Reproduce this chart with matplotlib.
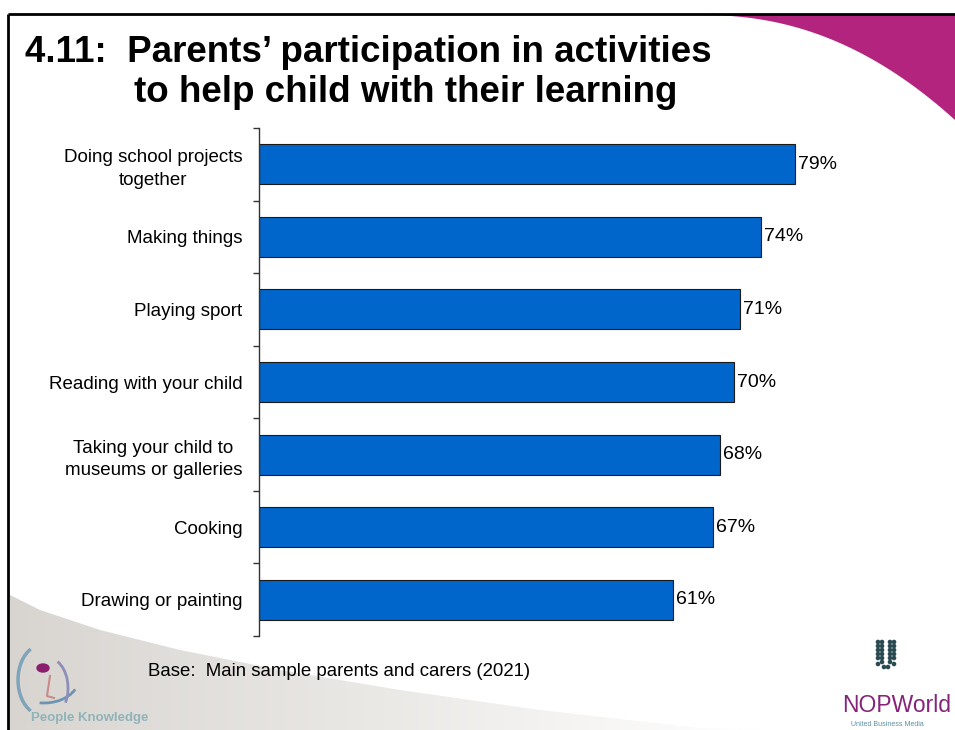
import numpy as np
import matplotlib.pyplot as plt
from matplotlib.patches import Polygon, Ellipse, Arc
from matplotlib.colors import LinearSegmentedColormap

plt.rcParams['font.family'] = ['Liberation Sans', 'DejaVu Sans']

activities = ['Doing school projects\ntogether', 'Making things', 'Playing sport',
              'Reading with your child', 'Taking your child to\nmuseums or galleries',
              'Cooking', 'Drawing or painting']
shares = [79, 74, 71, 70, 68, 67, 61]

W, H = 955, 730
fig = plt.figure(figsize=(W / 100, H / 100), dpi=100)

# slide background: frame, swooshes, logos (pixel coordinates)
bg = fig.add_axes([0, 0, 1, 1], zorder=0)
bg.set_xlim(0, W)
bg.set_ylim(H, 0)
bg.axis('off')

# grey swoosh bottom left, fading to the right
gx = np.array([8, 40, 100, 180, 280, 400, 540, 700, 760])
gy = np.array([594, 610, 630, 650, 670, 690, 710, 728, 730])
grey = Polygon(list(zip(gx, gy)) + [(760, H), (8, H)], closed=True,
               facecolor='none', edgecolor='none')
bg.add_patch(grey)
grad = np.linspace(0, 1, 256)[None, :]
img = bg.imshow(grad, extent=[8, 760, H, 590], aspect='auto', zorder=0.5,
                cmap=LinearSegmentedColormap.from_list('g', ['#d8d5d1', '#ebe9e6', '#ffffff']))
img.set_clip_path(grey)

# magenta swoosh top right
t = np.linspace(0, 1, 40)
mx = 700 + 255 * t
my = 15 + 105 * t ** 2.2
mag = Polygon(list(zip(mx, my)) + [(W, 14), (700, 14)], closed=True,
              facecolor='#b3247f', edgecolor='none', zorder=1)
bg.add_patch(mag)

# frame
bg.plot([8, W], [14, 14], color='black', lw=2, zorder=2, solid_capstyle='butt')
bg.plot([8, 8], [14, H], color='black', lw=2, zorder=2, solid_capstyle='butt')

# People Knowledge logo
bg.add_patch(Arc((42, 680), 48, 70, theta1=110, theta2=250, color='#7fa3b8', lw=2.5))
bg.add_patch(Arc((44, 678), 70, 50, theta1=20, theta2=100, color='#6f93b3', lw=2))
bg.add_patch(Arc((48, 688), 40, 60, theta1=-70, theta2=40, color='#8e8fb8', lw=2))
bg.add_patch(Ellipse((43, 668), 12, 8, color='#8a1f6e'))
bg.plot([50, 47, 54], [676, 696, 698], color='#c98a8a', lw=1.5)
bg.text(31, 718, 'People Knowledge', color='#8fb3b8', fontsize=9.5,
        fontweight='bold', va='center', ha='left')

# NOP World logo
for dx in [-8, -4, 4, 8]:
    for j in range(6):
        yy = 642 + j * 4 + (2 if abs(dx) == 8 and j == 5 else 0)
        bg.add_patch(Ellipse((886 + dx, yy), 3.2, 3.2, color='#2a4a52'))
for dx in [-2, 2]:
    bg.add_patch(Ellipse((886 + dx, 667), 3.2, 3.2, color='#2a4a52'))
bg.text(842, 712, 'NOPWorld', color='#86237a', fontsize=16.5, va='baseline', ha='left')
bg.text(851, 724, 'United Business Media', color='#5b8fa3', fontsize=5,
        va='center', ha='left')

# title
bg.text(25, 62, '4.11:  Parents\u2019 participation in activities', fontsize=26.5,
        fontweight='bold', va='baseline', ha='left', zorder=3)
bg.text(134, 102, 'to help child with their learning', fontsize=26.5,
        fontweight='bold', va='baseline', ha='left', zorder=3)

bg.text(148, 672, 'Base:  Main sample parents and carers (2021)', fontsize=13.4,
        va='center', ha='left')

# bar chart
x0, x1, ytop, ybot = 259, 937, 128, 636
ax = fig.add_axes([x0 / W, (H - ybot) / H, (x1 - x0) / W, (ybot - ytop) / H], zorder=2)
ax.patch.set_alpha(0)
pos = np.arange(len(activities))
ax.barh(pos, shares, height=0.55, color='#0066cc', edgecolor='#1a1a1a', linewidth=0.8)
for p, v in zip(pos, shares):
    ax.text(v + 0.45, p, f'{v}%', va='center', ha='left', fontsize=14)
ax.set_xlim(0, 100)
ax.set_ylim(len(activities) - 0.5, -0.5)
for s in ['top', 'right', 'bottom']:
    ax.spines[s].set_visible(False)
ax.spines['left'].set_color('#333333')
ax.spines['left'].set_linewidth(1)
ax.set_xticks([])
ax.set_yticks(np.arange(-0.5, len(activities), 1))
ax.set_yticklabels([])
ax.tick_params(axis='y', length=4, width=1, color='#333333')
ax.set_yticks(pos, minor=True)
ax.set_yticklabels(activities, minor=True, fontsize=13.5, ha='right',
                   multialignment='center', linespacing=1.45)
ax.tick_params(axis='y', which='minor', length=0, pad=12)

fig.savefig('out.png', dpi=100)
